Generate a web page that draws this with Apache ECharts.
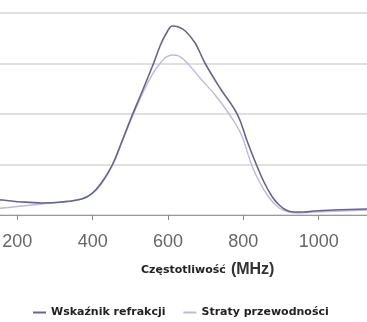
<!DOCTYPE html>
<html>
<head>
<meta charset="utf-8">
<script src="https://cdn.jsdelivr.net/npm/echarts@6/dist/echarts.min.js"></script>
<style>
html,body{margin:0;padding:0;background:#fff;overflow:hidden;width:367px;height:322px;position:relative;}
#chart{position:absolute;left:-61px;top:0;width:458px;height:322px;}
</style>
</head>
<body>
<div id="chart"></div>
<script>
// Data (frequency in MHz, values in chart units)
const xTicks = [200, 400, 600, 800, 1000];
const freqRefr = [150, 161, 213, 266, 318, 371, 397, 423, 452, 478, 504, 533, 562, 580, 596, 612, 628, 646, 672, 698, 738, 785, 809, 835, 856, 877, 895, 913, 934, 961, 987, 1039, 1130];
const valsRefr = [0.30, 0.297, 0.257, 0.238, 0.257, 0.317, 0.416, 0.634, 0.99, 1.465, 1.96, 2.475, 3.01, 3.366, 3.604, 3.743, 3.723, 3.644, 3.406, 3.01, 2.515, 1.98, 1.485, 0.99, 0.634, 0.356, 0.198, 0.099, 0.059, 0.059, 0.079, 0.099, 0.119];
const freqStrat = [150, 161, 213, 266, 318, 371, 397, 423, 452, 478, 504, 533, 562, 580, 596, 612, 628, 651, 685, 725, 764, 795, 822, 843, 869, 895, 921, 948, 990, 1130];
const valsStrat = [0.135, 0.139, 0.178, 0.218, 0.257, 0.317, 0.416, 0.614, 0.97, 1.445, 1.92, 2.416, 2.83, 3.01, 3.13, 3.168, 3.149, 3.01, 2.713, 2.376, 1.98, 1.584, 0.99, 0.653, 0.337, 0.139, 0.059, 0.04, 0.059, 0.099];
const seriesNames = ['Wskaźnik refrakcji', 'Straty przewodności'];

const zip = (a, b) => a.map((v, i) => [v, b[i]]);
const OFF = 61; // container is shifted left by this many px

const chart = echarts.init(document.getElementById('chart'), null, {renderer: 'canvas'});
chart.setOption({
  animation: false,
  backgroundColor: '#ffffff',
  color: ['#66668c', '#c2b9da'],
  grid: {left: 0, right: 0, top: 13, bottom: 107, containLabel: false},
  title: {
    text: '{a|Częstotliwość} {b|(MHz)}',
    left: 136 + OFF, top: 256,
    textStyle: {
      rich: {
        a: {fontFamily: 'DejaVu Sans', fontWeight: 'bold', fontSize: 11, color: '#222'},
        b: {fontFamily: 'Liberation Sans', fontSize: 16, color: '#333'}
      }
    }
  },
  legend: {
    data: seriesNames,
    left: 28 + OFF, top: 302,
    icon: 'rect', itemWidth: 13, itemHeight: 2, itemGap: 18,
    textStyle: {fontFamily: 'DejaVu Sans', fontWeight: 'bold', fontSize: 11, color: '#222'}
  },
  xAxis: {
    type: 'value', min: 0, max: 1200, interval: 200,
    axisLine: {show: true, lineStyle: {color: '#999', width: 1}},
    axisTick: {show: true, length: 5, lineStyle: {color: '#888'}},
    axisLabel: {
      margin: 18, fontFamily: 'Liberation Sans', fontSize: 18, color: '#666',
      formatter: v => xTicks.includes(v) ? String(v) : ''
    },
    splitLine: {show: false}
  },
  yAxis: {
    type: 'value', min: 0, max: 4, interval: 1,
    axisLine: {show: false}, axisTick: {show: false}, axisLabel: {show: false},
    splitLine: {show: true, lineStyle: {color: '#d6d6d6', width: 1.5}}
  },
  series: [
    {name: seriesNames[0], type: 'line', data: zip(freqRefr, valsRefr), smooth: 0.4, showSymbol: false, lineStyle: {width: 1.6, color: '#66668c'}, z: 3},
    {name: seriesNames[1], type: 'line', data: zip(freqStrat, valsStrat), smooth: 0.4, showSymbol: false, lineStyle: {width: 1.4, color: '#c2b9da'}, z: 2}
  ]
});
</script>
</body>
</html>
